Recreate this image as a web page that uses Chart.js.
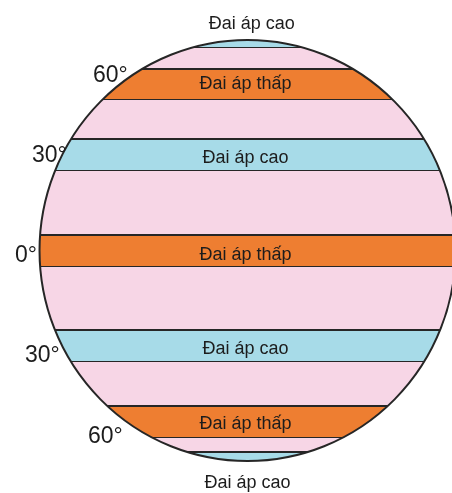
<!DOCTYPE html>
<html>
<head>
<meta charset="utf-8">
<script src="https://cdn.jsdelivr.net/npm/chart.js@4/dist/chart.umd.min.js"></script>
<style>
  html, body { margin: 0; padding: 0; background: #ffffff; overflow: hidden; }
  #wrap { position: relative; width: 452px; height: 493px; }
</style>
</head>
<body>
<div id="wrap"><canvas id="c"></canvas></div>
<script>
// ---- data (globe units: pole = ±1) ----
const bandNames  = ['Đai áp cao', 'Đai áp thấp', 'Đai áp cao', 'Đai áp thấp', 'Đai áp cao', 'Đai áp thấp', 'Đai áp cao'];
const bandKinds  = ['cao', 'thap', 'cao', 'thap', 'cao', 'thap', 'cao'];
const bandTop    = [1.02, 0.862, 0.530, 0.074, -0.378, -0.739, -0.957];
const bandBottom = [0.967, 0.720, 0.382, -0.074, -0.525, -0.886, -1.02];
const latLabels  = ['60°', '30°', '0°', '30°', '60°'];

// ---- styles / positions (not data) ----
const COLORS = { cao: '#a7dbe8', thap: '#ee7e31', disk: '#f7d6e6', line: '#262626', text: '#1c1c1c' };
// text anchors in globe units: band labels centred at x, baseline y
const bandLabelPos = [[0.02, 1.052], [-0.01, 0.768], [-0.01, 0.418], [-0.01, -0.043], [-0.01, -0.490], [-0.01, -0.850], [0.0, -1.128]];
// latitude labels: left x, baseline y
const latLabelPos = [[-0.743, 0.800], [-1.036, 0.420], [-1.118, -0.055], [-1.070, -0.530], [-0.767, -0.914]];

const datasets = [];
bandTop.forEach((t, i) => {
  datasets.push({
    label: bandNames[i],
    data: [{ x: -1.05, y: t }, { x: 1.05, y: t }],
    borderColor: COLORS.line,
    borderWidth: 2,
    backgroundColor: COLORS[bandKinds[i]],
    fill: { value: bandBottom[i] },
    pointRadius: 0,
    tension: 0
  });
  datasets.push({
    label: bandNames[i] + ' (biên dưới)',
    data: [{ x: -1.05, y: bandBottom[i] }, { x: 1.05, y: bandBottom[i] }],
    borderColor: COLORS.line,
    borderWidth: 2,
    fill: false,
    pointRadius: 0,
    tension: 0
  });
});

function ellipsePath(chart) {
  const xs = chart.scales.x, ys = chart.scales.y;
  const cx = xs.getPixelForValue(0), cy = ys.getPixelForValue(0);
  const rx = xs.getPixelForValue(1) - cx, ry = cy - ys.getPixelForValue(1);
  const ctx = chart.ctx;
  ctx.beginPath();
  ctx.ellipse(cx, cy, rx, ry, 0, 0, Math.PI * 2);
}

const globePlugin = {
  id: 'globe',
  beforeDatasetsDraw(chart) {
    const ctx = chart.ctx;
    ctx.save();
    ellipsePath(chart);
    ctx.fillStyle = COLORS.disk;
    ctx.fill();
    ctx.clip();
  },
  afterDatasetsDraw(chart) {
    const ctx = chart.ctx;
    ctx.restore();
    ctx.save();
    ellipsePath(chart);
    ctx.lineWidth = 2;
    ctx.strokeStyle = COLORS.line;
    ctx.stroke();
    ctx.restore();
  },
  afterDraw(chart) {
    const ctx = chart.ctx, xs = chart.scales.x, ys = chart.scales.y;
    ctx.save();
    ctx.fillStyle = COLORS.text;
    ctx.textBaseline = 'alphabetic';
    ctx.font = '18px "Liberation Sans", Arial, sans-serif';
    ctx.textAlign = 'center';
    bandNames.forEach((n, i) => {
      const p = bandLabelPos[i];
      ctx.fillText(n, xs.getPixelForValue(p[0]), ys.getPixelForValue(p[1]));
    });
    ctx.font = '23px "Liberation Sans Narrow", "Arial Narrow", sans-serif';
    ctx.textAlign = 'left';
    latLabels.forEach((t, i) => {
      const p = latLabelPos[i];
      ctx.fillText(t, xs.getPixelForValue(p[0]), ys.getPixelForValue(p[1]));
    });
    ctx.restore();
  }
};

new Chart(document.getElementById('c'), {
  type: 'line',
  data: { datasets },
  options: {
    responsive: true,
    maintainAspectRatio: false,
    animation: false,
    layout: { padding: 0 },
    plugins: { legend: { display: false }, tooltip: { enabled: false } },
    scales: {
      x: { type: 'linear', display: false, min: -1.190, max: 0.983 },
      y: { type: 'linear', display: false, min: -1.152, max: 1.190 }
    }
  },
  plugins: [globePlugin]
});
</script>
</body>
</html>
